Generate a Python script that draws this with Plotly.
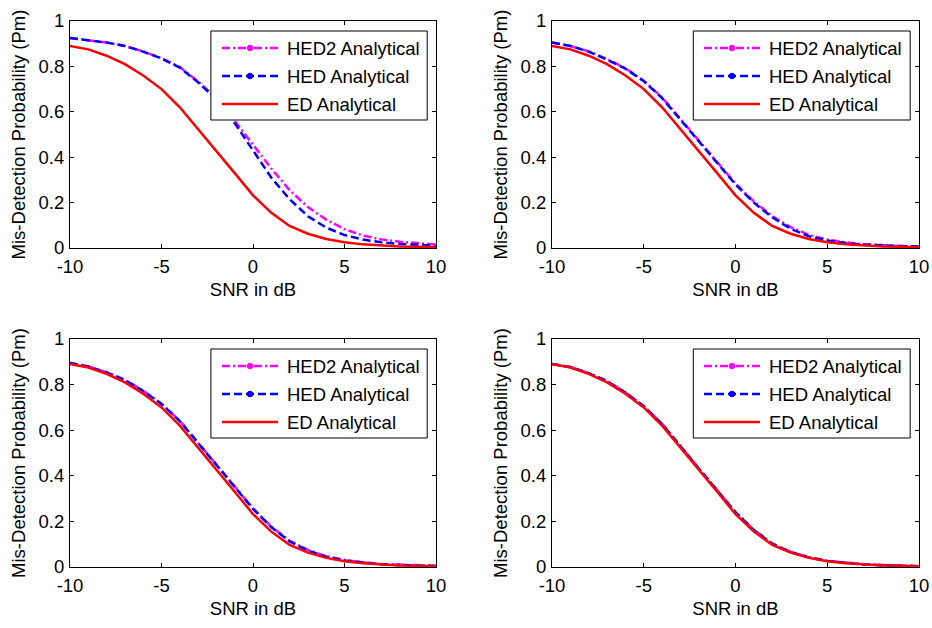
import plotly.graph_objects as go

snr = list(range(-10, 11))

ed = [0.89, 0.875, 0.847, 0.81, 0.76, 0.70, 0.62, 0.525, 0.425, 0.33, 0.232,
      0.155, 0.097, 0.063, 0.04, 0.025, 0.016, 0.01, 0.007, 0.005, 0.003]

hed_tl = [0.925, 0.915, 0.905, 0.89, 0.865, 0.835, 0.795, 0.73, 0.655, 0.55, 0.43,
          0.31, 0.215, 0.14, 0.09, 0.057, 0.037, 0.025, 0.018, 0.013, 0.01]
hed2_tl = [0.925, 0.915, 0.905, 0.89, 0.866, 0.836, 0.797, 0.733, 0.66, 0.56, 0.455,
           0.35, 0.255, 0.18, 0.125, 0.083, 0.055, 0.038, 0.028, 0.02, 0.015]

hed_tr = [0.905, 0.89, 0.865, 0.83, 0.79, 0.735, 0.66, 0.565, 0.475, 0.375, 0.28,
          0.2, 0.135, 0.085, 0.052, 0.033, 0.022, 0.015, 0.011, 0.008, 0.006]
hed2_tr = [0.905, 0.89, 0.866, 0.832, 0.792, 0.737, 0.663, 0.568, 0.478, 0.378, 0.284,
           0.205, 0.141, 0.092, 0.058, 0.037, 0.025, 0.017, 0.012, 0.009, 0.007]

hed_bl = [0.895, 0.88, 0.853, 0.82, 0.772, 0.715, 0.64, 0.545, 0.445, 0.35, 0.255,
          0.175, 0.112, 0.072, 0.045, 0.029, 0.019, 0.012, 0.009, 0.006, 0.004]
hed2_bl = [0.895, 0.88, 0.854, 0.821, 0.773, 0.716, 0.641, 0.546, 0.447, 0.352, 0.257,
           0.177, 0.115, 0.075, 0.047, 0.031, 0.02, 0.013, 0.01, 0.007, 0.005]

hed_br = [0.89, 0.877, 0.85, 0.815, 0.765, 0.705, 0.627, 0.532, 0.432, 0.336, 0.24,
          0.162, 0.102, 0.066, 0.042, 0.026, 0.017, 0.011, 0.008, 0.005, 0.003]
hed2_br = [0.89, 0.877, 0.85, 0.816, 0.766, 0.706, 0.628, 0.533, 0.433, 0.337, 0.241,
           0.163, 0.103, 0.067, 0.043, 0.027, 0.018, 0.012, 0.009, 0.006, 0.004]

panels = [(hed2_tl, hed_tl, ed), (hed2_tr, hed_tr, ed),
          (hed2_bl, hed_bl, ed), (hed2_br, hed_br, ed)]

x_ticks = [-10, -5, 0, 5, 10]
x_ticklabels = ["-10", "-5", "0", "5", "10"]
y_ticks = [0, 0.2, 0.4, 0.6, 0.8, 1]
y_ticklabels = ["0", "0.2", "0.4", "0.6", "0.8", "1"]

legend_names = ["HED2 Analytical", "HED Analytical", "ED Analytical"]
colors = ["#FF00FF", "#0000FF", "#FF0000"]
dashes = ["8px,3px,2px,3px", "8px,4px", "solid"]
width = 2.5

FONT = "Liberation Sans, Arial, sans-serif"
FS = 18.5
W, H = 932, 628

# plot-area pixel boxes (left, right, top, bottom)
boxes = [(70, 436, 21, 248), (552, 919, 21, 248),
         (70, 436, 339, 567), (552, 919, 339, 567)]

fig = go.Figure()
layout = dict(width=W, height=H, margin=dict(l=0, r=0, t=0, b=0, autoexpand=False),
              paper_bgcolor="white", plot_bgcolor="white", showlegend=False,
              font=dict(family=FONT, size=FS, color="black"))
shapes = []
annotations = []

for i, ((h2, h, e), (l, r, t, b)) in enumerate(zip(panels, boxes)):
    n = "" if i == 0 else str(i + 1)
    xa, ya = "x" + n, "y" + n
    for vals, nm, c, d in zip((h2, h, e), legend_names, colors, dashes):
        fig.add_trace(go.Scatter(x=snr, y=vals, mode="lines", name=nm,
                                 line=dict(color=c, width=width, dash=d),
                                 xaxis=xa, yaxis=ya))
    layout["xaxis" + n] = dict(
        domain=[l / W, r / W], anchor=ya, range=[-10, 10], automargin=False,
        tickvals=x_ticks, ticktext=x_ticklabels, ticks="inside", ticklen=4,
        tickcolor="black", showline=True, linecolor="black", linewidth=1,
        mirror="ticks", showgrid=False, zeroline=False,
        tickfont=dict(size=FS, color="black", family=FONT), ticklabelstandoff=2,
        title=dict(text="SNR in dB", font=dict(size=FS, color="black", family=FONT), standoff=6))
    layout["yaxis" + n] = dict(
        domain=[(H - b) / H, (H - t) / H], anchor=xa, range=[0, 1], automargin=False,
        tickvals=y_ticks, ticktext=y_ticklabels, ticks="inside", ticklen=4,
        tickcolor="black", showline=True, linecolor="black", linewidth=1,
        mirror="ticks", showgrid=False, zeroline=False,
        tickfont=dict(size=FS, color="black", family=FONT), ticklabelstandoff=1,
        title=dict(text="Mis-Detection Probability (Pm)",
                   font=dict(size=FS, color="black", family=FONT), standoff=8))

    xr, yr = xa + " domain", ya + " domain"
    pw, ph = r - l, b - t
    # legend box
    shapes.append(dict(type="rect", xref=xr, yref=yr, x0=0.385, x1=0.976,
                       y0=1 - 99 / ph, y1=1 - 10 / ph,
                       line=dict(color="black", width=1), fillcolor="white"))
    rows = [27, 55, 83]
    for k, (nm, c, d) in enumerate(zip(legend_names, colors, dashes)):
        yy = 1 - rows[k] / ph
        shapes.append(dict(type="line", xref=xr, yref=yr, x0=152 / pw, x1=208 / pw,
                           y0=yy, y1=yy, line=dict(color=c, width=width, dash=d)))
        if k < 2:
            rx, ry = 2.8 / pw, 2.8 / ph
            shapes.append(dict(type="circle", xref=xr, yref=yr,
                               x0=180 / pw - rx, x1=180 / pw + rx,
                               y0=yy - ry, y1=yy + ry,
                               line=dict(color=c, width=1), fillcolor=c))
        annotations.append(dict(text=nm, xref=xr, yref=yr, x=215 / pw, y=yy,
                                xanchor="left", yanchor="middle", showarrow=False,
                                font=dict(size=FS, color="black", family=FONT)))

layout["shapes"] = shapes
layout["annotations"] = annotations
fig.update_layout(**layout)
fig.write_html("out.html")
